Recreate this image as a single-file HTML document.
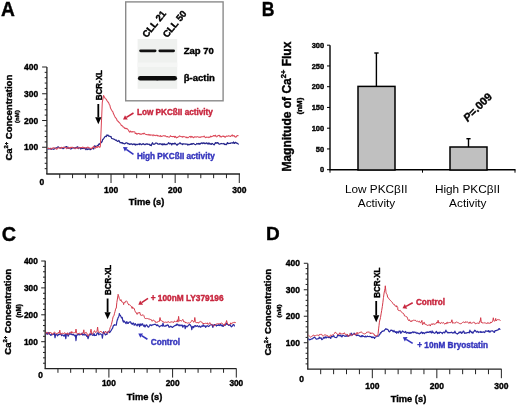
<!DOCTYPE html><html><head><meta charset="utf-8"><style>html,body{margin:0;padding:0;background:#fff;width:520px;height:407px;overflow:hidden}svg{display:block;filter:blur(0.4px)}text.k{stroke:#000;stroke-width:0.38px}text.r{stroke:#c8263e;stroke-width:0.38px}text.u{stroke:#3535bd;stroke-width:0.38px}</style></head><body><svg width="520" height="407" viewBox="0 0 520 407">
<rect width="520" height="407" fill="#fff"/>
<text class="k" x="0" y="0" font-family="Liberation Sans" font-size="19.8" font-weight="bold" text-anchor="start" fill="#000" transform="translate(0.9,15.8) scale(0.97,1)">A</text>
<line x1="46.9" y1="174" x2="46.9" y2="67" stroke="#222" stroke-width="1.3"/>
<line x1="46.25" y1="174" x2="240" y2="174" stroke="#222" stroke-width="1.3"/>
<line x1="44.70" y1="168.65" x2="46.9" y2="168.65" stroke="#222" stroke-width="1"/>
<line x1="44.70" y1="163.30" x2="46.9" y2="163.30" stroke="#222" stroke-width="1"/>
<line x1="44.70" y1="157.95" x2="46.9" y2="157.95" stroke="#222" stroke-width="1"/>
<line x1="44.70" y1="152.60" x2="46.9" y2="152.60" stroke="#222" stroke-width="1"/>
<line x1="42.10" y1="147.25" x2="46.9" y2="147.25" stroke="#222" stroke-width="1"/>
<line x1="44.70" y1="141.90" x2="46.9" y2="141.90" stroke="#222" stroke-width="1"/>
<line x1="44.70" y1="136.55" x2="46.9" y2="136.55" stroke="#222" stroke-width="1"/>
<line x1="44.70" y1="131.20" x2="46.9" y2="131.20" stroke="#222" stroke-width="1"/>
<line x1="44.70" y1="125.85" x2="46.9" y2="125.85" stroke="#222" stroke-width="1"/>
<line x1="42.10" y1="120.50" x2="46.9" y2="120.50" stroke="#222" stroke-width="1"/>
<line x1="44.70" y1="115.15" x2="46.9" y2="115.15" stroke="#222" stroke-width="1"/>
<line x1="44.70" y1="109.80" x2="46.9" y2="109.80" stroke="#222" stroke-width="1"/>
<line x1="44.70" y1="104.45" x2="46.9" y2="104.45" stroke="#222" stroke-width="1"/>
<line x1="44.70" y1="99.10" x2="46.9" y2="99.10" stroke="#222" stroke-width="1"/>
<line x1="42.10" y1="93.75" x2="46.9" y2="93.75" stroke="#222" stroke-width="1"/>
<line x1="44.70" y1="88.40" x2="46.9" y2="88.40" stroke="#222" stroke-width="1"/>
<line x1="44.70" y1="83.05" x2="46.9" y2="83.05" stroke="#222" stroke-width="1"/>
<line x1="44.70" y1="77.70" x2="46.9" y2="77.70" stroke="#222" stroke-width="1"/>
<line x1="44.70" y1="72.35" x2="46.9" y2="72.35" stroke="#222" stroke-width="1"/>
<line x1="42.10" y1="67.00" x2="46.9" y2="67.00" stroke="#222" stroke-width="1"/>
<line x1="59.73" y1="174" x2="59.73" y2="178.2" stroke="#222" stroke-width="1"/>
<line x1="72.55" y1="174" x2="72.55" y2="178.2" stroke="#222" stroke-width="1"/>
<line x1="85.38" y1="174" x2="85.38" y2="178.2" stroke="#222" stroke-width="1"/>
<line x1="98.20" y1="174" x2="98.20" y2="178.2" stroke="#222" stroke-width="1"/>
<line x1="111.03" y1="174" x2="111.03" y2="183" stroke="#222" stroke-width="1"/>
<line x1="123.86" y1="174" x2="123.86" y2="178.2" stroke="#222" stroke-width="1"/>
<line x1="136.68" y1="174" x2="136.68" y2="178.2" stroke="#222" stroke-width="1"/>
<line x1="149.51" y1="174" x2="149.51" y2="178.2" stroke="#222" stroke-width="1"/>
<line x1="162.33" y1="174" x2="162.33" y2="178.2" stroke="#222" stroke-width="1"/>
<line x1="175.16" y1="174" x2="175.16" y2="183" stroke="#222" stroke-width="1"/>
<line x1="187.99" y1="174" x2="187.99" y2="178.2" stroke="#222" stroke-width="1"/>
<line x1="200.81" y1="174" x2="200.81" y2="178.2" stroke="#222" stroke-width="1"/>
<line x1="213.64" y1="174" x2="213.64" y2="178.2" stroke="#222" stroke-width="1"/>
<line x1="226.46" y1="174" x2="226.46" y2="178.2" stroke="#222" stroke-width="1"/>
<line x1="239.29" y1="174" x2="239.29" y2="183" stroke="#222" stroke-width="1"/>
<text class="k" x="38.2" y="150.35" font-family="Liberation Sans" font-size="8.5" font-weight="bold" text-anchor="end" fill="#000" >100</text>
<text class="k" x="38.2" y="123.60" font-family="Liberation Sans" font-size="8.5" font-weight="bold" text-anchor="end" fill="#000" >200</text>
<text class="k" x="38.2" y="96.85" font-family="Liberation Sans" font-size="8.5" font-weight="bold" text-anchor="end" fill="#000" >300</text>
<text class="k" x="38.2" y="70.10" font-family="Liberation Sans" font-size="8.5" font-weight="bold" text-anchor="end" fill="#000" >400</text>
<text class="k" x="111.03" y="193.2" font-family="Liberation Sans" font-size="8.5" font-weight="bold" text-anchor="middle" fill="#000" >100</text>
<text class="k" x="175.16" y="193.2" font-family="Liberation Sans" font-size="8.5" font-weight="bold" text-anchor="middle" fill="#000" >200</text>
<text class="k" x="239.29" y="193.2" font-family="Liberation Sans" font-size="8.5" font-weight="bold" text-anchor="middle" fill="#000" >300</text>
<text class="k" x="41.8" y="184.6" font-family="Liberation Sans" font-size="8.5" font-weight="bold" text-anchor="middle" fill="#000" >0</text>
<text class="k" x="146.6" y="205.1" font-family="Liberation Sans" font-size="9.3" font-weight="bold" text-anchor="middle" fill="#000" >Time (s)</text>
<text class="k" transform="translate(11.5,117.7) rotate(-90)" font-family="Liberation Sans" font-size="9.5" font-weight="bold" text-anchor="middle">Ca<tspan font-size="5.8" dy="-3.5">2+</tspan><tspan dy="3.5"> Concentration</tspan></text>
<text class="k" transform="translate(19.3,116.6) rotate(-90)" font-family="Liberation Sans" font-size="6" font-weight="bold" text-anchor="middle">(nM)</text>
<path d="M47.50,148.55 L48.10,149.21 L48.70,148.33 L49.30,148.95 L49.90,148.57 L50.50,148.38 L51.10,149.46 L51.70,149.05 L52.30,148.73 L52.90,148.99 L53.50,149.33 L54.10,148.87 L54.70,148.97 L55.30,148.16 L55.90,148.09 L56.50,148.01 L57.10,147.48 L57.70,147.11 L58.30,146.86 L58.90,147.50 L59.50,147.85 L60.10,147.94 L60.70,148.20 L61.30,147.55 L61.90,147.91 L62.50,148.27 L63.10,148.73 L63.70,148.07 L64.30,147.99 L64.90,147.06 L65.50,147.42 L66.10,146.67 L66.70,146.71 L67.30,148.12 L67.90,147.01 L68.50,148.10 L69.10,148.38 L69.70,148.17 L70.00,148.48 L70.30,148.69 L70.90,149.08 L71.50,148.59 L72.10,148.14 L72.70,147.92 L73.30,147.61 L73.90,147.97 L74.50,147.76 L75.10,148.67 L75.70,147.52 L76.30,147.38 L76.90,147.39 L77.50,146.77 L78.10,148.67 L78.70,147.25 L79.30,147.72 L79.90,147.83 L80.50,149.08 L81.10,147.72 L81.70,148.72 L82.30,148.24 L82.90,148.32 L83.50,148.08 L84.10,148.69 L84.70,148.02 L85.00,148.27 L85.30,148.65 L85.90,149.69 L86.50,147.89 L87.10,149.17 L87.70,149.52 L88.30,148.92 L88.90,149.08 L89.50,148.75 L90.10,149.77 L90.70,149.51 L91.00,149.15 L91.30,148.86 L91.90,148.59 L92.50,148.38 L93.10,147.80 L93.70,149.04 L94.30,147.38 L94.90,145.53 L95.00,146.58 L95.50,146.68 L96.10,146.71 L96.70,146.14 L97.30,145.63 L97.90,145.38 L98.00,145.78 L98.50,144.69 L99.10,143.79 L99.70,144.28 L100.30,143.42 L100.90,141.82 L101.50,142.50 L102.10,141.66 L102.40,140.49 L102.70,139.45 L103.30,139.29 L103.90,138.29 L104.50,137.36 L105.10,136.47 L105.70,136.16 L106.30,136.59 L106.80,135.76 L106.90,134.97 L107.50,135.41 L108.10,135.12 L108.30,135.47 L108.70,136.20 L109.30,136.11 L109.90,136.31 L110.50,136.69 L111.10,136.51 L111.20,137.26 L111.70,138.41 L112.30,138.61 L112.90,138.74 L113.50,139.05 L114.10,139.17 L114.70,139.46 L115.30,140.09 L115.60,140.16 L115.90,140.40 L116.50,140.06 L117.10,141.07 L117.70,141.51 L118.30,141.19 L118.90,140.51 L119.50,141.54 L120.10,142.78 L120.70,142.50 L121.30,142.61 L121.50,142.58 L121.90,143.24 L122.50,142.74 L123.10,143.57 L123.70,143.30 L124.30,143.87 L124.90,143.69 L125.50,143.49 L126.10,142.73 L126.70,142.81 L127.30,143.11 L127.90,143.80 L128.50,143.94 L128.90,143.51 L129.10,143.90 L129.70,144.46 L130.30,144.15 L130.90,143.86 L131.50,143.77 L132.10,144.42 L132.70,144.62 L133.30,143.95 L133.90,144.35 L134.50,144.12 L135.00,143.87 L135.10,144.82 L135.70,145.05 L136.30,144.31 L136.90,144.38 L137.50,144.64 L138.10,144.14 L138.70,144.17 L139.30,144.61 L139.90,143.48 L140.50,144.07 L141.10,144.59 L141.70,144.71 L142.30,143.76 L142.90,144.18 L143.50,143.74 L144.10,144.31 L144.70,144.60 L145.30,144.53 L145.90,143.95 L146.50,143.76 L147.10,144.45 L147.70,143.82 L148.30,144.27 L148.90,144.50 L149.50,144.18 L150.10,145.48 L150.70,144.85 L151.30,145.67 L151.90,143.79 L152.50,142.71 L153.10,143.95 L153.70,144.37 L154.30,144.05 L154.90,144.03 L155.50,143.00 L156.10,143.18 L156.70,143.04 L157.30,143.42 L157.90,144.21 L158.50,144.14 L159.10,144.28 L159.70,143.75 L160.00,143.63 L160.30,143.88 L160.90,143.78 L161.50,144.58 L162.10,143.80 L162.70,144.93 L163.30,143.92 L163.90,144.53 L164.50,143.83 L165.10,144.81 L165.70,144.46 L166.30,144.43 L166.90,144.61 L167.50,143.93 L168.10,143.37 L168.70,142.55 L169.30,143.92 L169.90,143.55 L170.50,143.42 L171.10,143.66 L171.70,144.90 L172.30,143.46 L172.90,143.84 L173.50,143.66 L174.10,144.09 L174.70,143.02 L175.30,143.25 L175.90,144.05 L176.50,144.84 L177.10,145.25 L177.70,144.11 L178.30,144.04 L178.90,143.91 L179.50,143.15 L180.10,142.73 L180.70,143.73 L181.30,143.94 L181.90,143.84 L182.50,144.53 L183.10,143.65 L183.70,144.06 L184.30,143.97 L184.90,143.89 L185.50,144.15 L186.10,144.10 L186.70,144.13 L187.30,144.14 L187.90,145.07 L188.50,144.29 L189.10,144.63 L189.70,144.57 L190.30,144.02 L190.90,144.37 L191.50,143.63 L192.10,144.37 L192.70,143.66 L193.30,143.47 L193.90,143.83 L194.50,144.28 L195.10,144.55 L195.70,144.68 L196.30,144.13 L196.90,143.45 L197.50,143.93 L198.10,144.03 L198.70,143.40 L199.30,144.13 L199.90,144.07 L200.00,143.41 L200.50,143.84 L201.10,143.08 L201.70,142.94 L202.30,143.57 L202.90,142.81 L203.50,143.30 L204.10,142.78 L204.70,143.66 L205.30,143.29 L205.90,143.60 L206.50,142.83 L207.10,143.08 L207.70,143.90 L208.30,144.05 L208.90,142.85 L209.50,143.77 L210.10,144.21 L210.70,143.72 L211.30,144.46 L211.90,143.47 L212.50,143.50 L213.10,144.17 L213.70,144.62 L214.30,144.81 L214.90,143.60 L215.50,142.62 L216.10,143.32 L216.70,142.66 L217.30,143.04 L217.90,142.60 L218.50,143.66 L219.10,144.04 L219.70,144.10 L220.30,143.82 L220.90,143.70 L221.50,143.44 L222.10,143.68 L222.70,143.73 L223.30,143.86 L223.90,143.44 L224.50,144.50 L225.10,144.14 L225.70,144.57 L226.30,144.74 L226.90,143.61 L227.50,142.59 L228.10,143.70 L228.70,143.35 L229.30,143.42 L229.90,143.27 L230.50,143.41 L231.10,142.74 L231.70,143.00 L232.30,142.93 L232.90,143.14 L233.50,141.96 L234.10,143.11 L234.70,143.41 L235.30,142.42 L235.90,142.47 L236.50,142.91 L237.10,143.46 L237.70,143.38 L238.30,144.10 L238.50,143.71" fill="none" stroke="#26268c" stroke-width="1.2" stroke-linejoin="round"/>
<path d="M47.50,148.32 L48.10,148.51 L48.70,148.18 L49.30,148.38 L49.90,148.73 L50.50,148.67 L51.10,149.15 L51.70,148.28 L52.30,148.27 L52.90,147.92 L53.50,147.70 L54.10,147.85 L54.70,148.11 L55.30,148.32 L55.90,148.46 L56.50,149.30 L57.10,149.10 L57.70,147.88 L58.30,148.08 L58.90,147.80 L59.50,147.71 L60.10,148.47 L60.70,148.16 L61.30,147.23 L61.90,147.77 L62.50,147.76 L63.10,147.36 L63.70,147.27 L64.30,147.35 L64.90,147.65 L65.50,147.62 L66.10,147.82 L66.70,148.71 L67.30,147.96 L67.90,147.58 L68.50,147.64 L69.10,148.26 L69.70,147.76 L70.00,148.47 L70.30,147.59 L70.90,147.27 L71.50,147.54 L72.10,147.30 L72.70,147.29 L73.30,147.76 L73.90,148.11 L74.50,148.01 L75.10,147.77 L75.70,148.38 L76.30,148.25 L76.90,147.89 L77.50,148.36 L78.10,147.64 L78.70,147.75 L79.30,148.02 L79.90,147.85 L80.50,147.51 L81.10,147.74 L81.70,147.46 L82.30,147.28 L82.90,147.00 L83.50,147.89 L84.10,147.50 L84.70,148.07 L85.00,148.00 L85.30,147.68 L85.90,147.92 L86.50,147.86 L87.10,147.76 L87.70,147.03 L88.30,147.31 L88.90,147.81 L89.50,147.87 L90.10,148.13 L90.70,148.47 L91.30,148.15 L91.90,148.69 L92.50,147.38 L93.10,147.30 L93.70,146.22 L94.30,147.18 L94.90,147.33 L95.50,148.11 L96.10,147.57 L96.70,146.55 L97.30,147.52 L97.90,146.82 L98.50,146.50 L99.10,146.82 L99.70,147.34 L100.00,147.09 L100.30,146.30 L100.40,145.14 L100.90,134.77 L101.50,120.67 L102.10,106.76 L102.30,102.33 L102.70,100.21 L103.30,97.13 L103.50,95.59 L103.90,96.17 L104.50,97.19 L105.10,98.34 L105.70,98.74 L106.30,99.40 L106.50,99.72 L106.90,100.52 L107.50,101.40 L108.10,102.13 L108.70,102.86 L109.30,104.45 L109.70,105.03 L109.90,105.33 L110.50,108.18 L111.10,109.13 L111.70,110.27 L112.30,111.22 L112.90,111.85 L113.50,113.82 L114.10,114.94 L114.20,115.11 L114.70,116.28 L115.30,117.39 L115.90,118.05 L116.50,118.74 L117.10,120.48 L117.70,121.12 L118.30,121.18 L118.60,122.00 L118.90,122.22 L119.50,122.72 L120.10,123.57 L120.70,124.09 L121.30,125.45 L121.90,125.62 L122.50,126.02 L123.10,126.93 L123.70,126.91 L124.30,127.91 L124.50,127.83 L124.90,128.50 L125.50,128.17 L126.10,128.76 L126.70,128.34 L127.30,128.84 L127.90,129.48 L128.50,130.21 L129.10,131.42 L129.70,132.16 L130.30,131.28 L130.40,130.98 L130.90,131.87 L131.50,132.06 L132.10,131.44 L132.70,132.06 L133.30,131.74 L133.90,131.80 L134.50,131.75 L135.00,132.24 L135.10,133.55 L135.70,133.46 L136.30,133.25 L136.90,134.37 L137.50,133.65 L138.10,133.48 L138.70,133.40 L139.00,133.67 L139.30,133.49 L139.90,134.25 L140.50,133.90 L141.10,134.14 L141.70,134.16 L142.30,133.72 L142.90,133.49 L143.50,133.84 L144.10,133.05 L144.70,133.73 L145.30,134.14 L145.90,134.42 L146.50,134.51 L147.10,134.78 L147.70,134.65 L148.30,135.07 L148.90,134.30 L149.50,135.10 L150.10,134.74 L150.70,135.22 L151.30,135.07 L151.90,135.06 L152.50,134.93 L153.00,135.85 L153.10,135.20 L153.70,134.84 L154.30,135.32 L154.90,135.60 L155.50,135.66 L156.10,135.25 L156.70,135.21 L157.30,135.90 L157.90,135.39 L158.50,135.89 L159.10,136.21 L159.70,136.12 L160.30,135.49 L160.90,136.59 L161.50,136.36 L162.10,136.29 L162.70,136.02 L163.30,135.64 L163.90,135.78 L164.50,136.07 L165.10,135.77 L165.70,136.06 L166.30,136.69 L166.90,136.70 L167.50,136.49 L168.10,136.91 L168.70,137.08 L169.30,137.17 L169.90,136.47 L170.50,135.69 L171.10,136.48 L171.70,136.56 L172.30,136.43 L172.90,136.76 L173.50,136.53 L174.10,136.35 L174.70,137.37 L175.30,136.37 L175.90,136.98 L176.00,137.35 L176.50,137.88 L177.10,137.47 L177.70,137.38 L178.30,136.71 L178.90,136.80 L179.50,135.89 L180.10,136.13 L180.70,136.50 L181.30,136.66 L181.90,136.57 L182.50,137.27 L183.10,136.39 L183.70,136.73 L184.30,136.66 L184.90,136.83 L185.50,136.93 L186.10,137.83 L186.70,136.94 L187.30,137.57 L187.90,137.92 L188.50,137.42 L189.10,136.95 L189.70,136.45 L190.30,136.37 L190.90,137.64 L191.50,136.39 L192.10,136.94 L192.70,136.71 L193.30,137.76 L193.90,137.58 L194.50,136.75 L195.10,136.72 L195.70,137.02 L196.30,137.15 L196.90,136.74 L197.50,136.84 L198.10,136.81 L198.70,137.23 L199.00,137.34 L199.30,137.36 L199.90,136.99 L200.50,137.41 L201.10,137.00 L201.70,136.67 L202.30,136.67 L202.90,136.70 L203.50,136.72 L204.10,135.99 L204.70,137.08 L205.30,137.29 L205.90,137.69 L206.50,137.12 L207.10,137.33 L207.70,137.18 L208.30,137.01 L208.90,137.71 L209.50,136.98 L210.10,137.12 L210.70,136.15 L211.30,136.68 L211.90,136.61 L212.50,136.18 L213.10,136.15 L213.70,135.43 L214.30,135.54 L214.90,136.13 L215.50,135.16 L216.10,136.33 L216.70,136.85 L217.30,136.33 L217.90,135.73 L218.50,135.46 L219.10,135.36 L219.70,135.54 L220.00,136.94 L220.30,136.15 L220.90,136.58 L221.50,137.00 L222.10,136.22 L222.70,136.12 L223.30,136.48 L223.90,136.05 L224.50,136.67 L225.10,137.38 L225.70,136.73 L226.30,136.05 L226.90,136.33 L227.50,136.34 L228.10,135.85 L228.70,135.86 L229.30,135.95 L229.90,136.18 L230.50,136.56 L231.10,136.01 L231.70,135.36 L232.30,134.87 L232.90,136.18 L233.50,135.80 L234.10,135.60 L234.70,136.77 L235.30,136.74 L235.90,137.22 L236.50,136.36 L237.10,135.69 L237.70,135.41 L238.30,135.79 L238.50,135.88" fill="none" stroke="#dc4a5a" stroke-width="1.05" stroke-linejoin="round"/>
<text class="k" transform="translate(101.5,85.2) rotate(-90) scale(0.91,1)" font-family="Liberation Sans" font-size="8.8" font-weight="bold" text-anchor="middle">BCR-XL</text>
<line x1="98.30" y1="104.00" x2="98.30" y2="117.30" stroke="#000" stroke-width="1.8"/>
<polygon points="98.30,124.30 95.20,117.30 101.40,117.30" fill="#000"/>
<text class="r" x="136.9" y="115.2" font-family="Liberation Sans" font-size="8.2" font-weight="bold" text-anchor="start" fill="#c8263e" >Low PKCßII activity</text>
<text class="u" x="136.9" y="158.6" font-family="Liberation Sans" font-size="8.2" font-weight="bold" text-anchor="start" fill="#3535bd" >High PKCßII activity</text>
<line x1="133.50" y1="113.00" x2="126.40" y2="117.39" stroke="#c8263e" stroke-width="1.6"/>
<polygon points="123.00,119.50 125.03,115.18 127.77,119.61" fill="#c8263e"/>
<line x1="133.50" y1="154.40" x2="126.27" y2="149.30" stroke="#3535bd" stroke-width="1.6"/>
<polygon points="123.00,147.00 127.77,147.18 124.77,151.43" fill="#3535bd"/>
<rect x="125.7" y="1.9" width="97.4" height="98.9" fill="#fff" stroke="#8a8a8a" stroke-width="1.4"/>
<rect x="137.6" y="39" width="39.6" height="49.8" fill="#eff1ef"/>
<rect x="137.6" y="62.5" width="39.6" height="4.5" fill="#f5f6f5"/>
<line x1="140.6" y1="50.8" x2="155.1" y2="50.8" stroke="#111" stroke-width="2.8" stroke-linecap="round"/>
<line x1="159.8" y1="50.8" x2="173.6" y2="50.8" stroke="#111" stroke-width="2.8" stroke-linecap="round"/>
<line x1="140.2" y1="78.3" x2="157" y2="78.3" stroke="#0c0c0c" stroke-width="4.5" stroke-linecap="round"/>
<line x1="157.6" y1="78.3" x2="174.8" y2="78.3" stroke="#0c0c0c" stroke-width="4.5" stroke-linecap="round"/>
<text class="k" x="183.7" y="53.8" font-family="Liberation Sans" font-size="9.5" font-weight="bold" text-anchor="start" fill="#000" >Zap 70</text>
<text class="k" x="183.7" y="81.2" font-family="Liberation Sans" font-size="9.5" font-weight="bold" text-anchor="start" fill="#000" >β-actin</text>
<text class="k" transform="translate(146.8,38.3) rotate(-51)" font-family="Liberation Sans" font-size="9.5" font-weight="bold">CLL 21</text>
<text class="k" transform="translate(167.3,38.3) rotate(-51)" font-family="Liberation Sans" font-size="9.5" font-weight="bold">CLL 50</text>
<text class="k" x="0" y="0" font-family="Liberation Sans" font-size="20" font-weight="bold" text-anchor="start" fill="#000" transform="translate(261.8,15.9) scale(0.88,1)">B</text>
<line x1="330" y1="169.7" x2="330" y2="45.3" stroke="#000" stroke-width="1.4"/>
<line x1="329.4" y1="169.7" x2="515.5" y2="169.7" stroke="#000" stroke-width="1.4"/>
<line x1="327" y1="169.70" x2="330" y2="169.70" stroke="#000" stroke-width="1"/>
<text class="k" x="324.2" y="172.40" font-family="Liberation Sans" font-size="7.5" font-weight="bold" text-anchor="end" fill="#000" >0</text>
<line x1="327" y1="148.95" x2="330" y2="148.95" stroke="#000" stroke-width="1"/>
<text class="k" x="324.2" y="151.65" font-family="Liberation Sans" font-size="7.5" font-weight="bold" text-anchor="end" fill="#000" >50</text>
<line x1="327" y1="128.20" x2="330" y2="128.20" stroke="#000" stroke-width="1"/>
<text class="k" x="324.2" y="130.90" font-family="Liberation Sans" font-size="7.5" font-weight="bold" text-anchor="end" fill="#000" >100</text>
<line x1="327" y1="107.45" x2="330" y2="107.45" stroke="#000" stroke-width="1"/>
<text class="k" x="324.2" y="110.15" font-family="Liberation Sans" font-size="7.5" font-weight="bold" text-anchor="end" fill="#000" >150</text>
<line x1="327" y1="86.70" x2="330" y2="86.70" stroke="#000" stroke-width="1"/>
<text class="k" x="324.2" y="89.40" font-family="Liberation Sans" font-size="7.5" font-weight="bold" text-anchor="end" fill="#000" >200</text>
<line x1="327" y1="65.95" x2="330" y2="65.95" stroke="#000" stroke-width="1"/>
<text class="k" x="324.2" y="68.65" font-family="Liberation Sans" font-size="7.5" font-weight="bold" text-anchor="end" fill="#000" >250</text>
<line x1="327" y1="45.20" x2="330" y2="45.20" stroke="#000" stroke-width="1"/>
<text class="k" x="324.2" y="47.90" font-family="Liberation Sans" font-size="7.5" font-weight="bold" text-anchor="end" fill="#000" >300</text>
<line x1="330" y1="169.7" x2="330" y2="172.7" stroke="#000" stroke-width="1"/>
<line x1="422.5" y1="169.7" x2="422.5" y2="172.7" stroke="#000" stroke-width="1"/>
<line x1="515" y1="169.7" x2="515" y2="172.7" stroke="#000" stroke-width="1"/>
<rect x="358" y="86.4" width="37" height="83.6" fill="#c0c0c0" stroke="#000" stroke-width="1.5"/>
<rect x="450" y="147" width="37" height="23" fill="#c0c0c0" stroke="#000" stroke-width="1.5"/>
<line x1="376.4" y1="86.4" x2="376.4" y2="53" stroke="#000" stroke-width="1.4"/>
<line x1="374.3" y1="53" x2="378.6" y2="53" stroke="#000" stroke-width="1.4"/>
<line x1="468.5" y1="147" x2="468.5" y2="138.7" stroke="#000" stroke-width="1.4"/>
<line x1="466.4" y1="138.7" x2="470.6" y2="138.7" stroke="#000" stroke-width="1.4"/>
<text class="k" transform="translate(290.9,106.6) rotate(-90)" font-family="Liberation Sans" font-size="12" font-weight="bold" text-anchor="middle">Magnitude of Ca<tspan font-size="7.5" dy="-4.5">2+</tspan><tspan dy="4.5"> Flux</tspan></text>
<text class="k" transform="translate(302.2,106) rotate(-90)" font-family="Liberation Sans" font-size="8" font-weight="bold" text-anchor="middle">(nM)</text>
<text class="k" transform="translate(480.3,109.8) rotate(-45)" font-family="Liberation Sans" font-size="11" font-weight="bold" text-anchor="middle"><tspan font-style="italic">P</tspan>=.009</text>
<text class="n" x="376.2" y="192.8" font-family="Liberation Sans" font-size="11.8" font-weight="normal" text-anchor="middle" fill="#000" >Low PKCβII</text>
<text class="n" x="376.5" y="206.9" font-family="Liberation Sans" font-size="11.8" font-weight="normal" text-anchor="middle" fill="#000" >Activity</text>
<text class="n" x="467.5" y="192.8" font-family="Liberation Sans" font-size="11.8" font-weight="normal" text-anchor="middle" fill="#000" >High PKCβII</text>
<text class="n" x="467.8" y="206.9" font-family="Liberation Sans" font-size="11.8" font-weight="normal" text-anchor="middle" fill="#000" >Activity</text>
<text class="k" x="0" y="0" font-family="Liberation Sans" font-size="19.8" font-weight="bold" text-anchor="start" fill="#000" transform="translate(1.8,240.9) scale(1,1)">C</text>
<line x1="45.2" y1="368.6" x2="45.2" y2="260.8" stroke="#222" stroke-width="1.3"/>
<line x1="44.550000000000004" y1="368.6" x2="236.5" y2="368.6" stroke="#222" stroke-width="1.3"/>
<line x1="43.00" y1="363.22" x2="45.2" y2="363.22" stroke="#222" stroke-width="1"/>
<line x1="43.00" y1="357.84" x2="45.2" y2="357.84" stroke="#222" stroke-width="1"/>
<line x1="43.00" y1="352.46" x2="45.2" y2="352.46" stroke="#222" stroke-width="1"/>
<line x1="43.00" y1="347.08" x2="45.2" y2="347.08" stroke="#222" stroke-width="1"/>
<line x1="41.20" y1="341.70" x2="45.2" y2="341.70" stroke="#222" stroke-width="1"/>
<line x1="43.00" y1="336.32" x2="45.2" y2="336.32" stroke="#222" stroke-width="1"/>
<line x1="43.00" y1="330.94" x2="45.2" y2="330.94" stroke="#222" stroke-width="1"/>
<line x1="43.00" y1="325.56" x2="45.2" y2="325.56" stroke="#222" stroke-width="1"/>
<line x1="43.00" y1="320.18" x2="45.2" y2="320.18" stroke="#222" stroke-width="1"/>
<line x1="41.20" y1="314.80" x2="45.2" y2="314.80" stroke="#222" stroke-width="1"/>
<line x1="43.00" y1="309.42" x2="45.2" y2="309.42" stroke="#222" stroke-width="1"/>
<line x1="43.00" y1="304.04" x2="45.2" y2="304.04" stroke="#222" stroke-width="1"/>
<line x1="43.00" y1="298.66" x2="45.2" y2="298.66" stroke="#222" stroke-width="1"/>
<line x1="43.00" y1="293.28" x2="45.2" y2="293.28" stroke="#222" stroke-width="1"/>
<line x1="41.20" y1="287.90" x2="45.2" y2="287.90" stroke="#222" stroke-width="1"/>
<line x1="43.00" y1="282.52" x2="45.2" y2="282.52" stroke="#222" stroke-width="1"/>
<line x1="43.00" y1="277.14" x2="45.2" y2="277.14" stroke="#222" stroke-width="1"/>
<line x1="43.00" y1="271.76" x2="45.2" y2="271.76" stroke="#222" stroke-width="1"/>
<line x1="43.00" y1="266.38" x2="45.2" y2="266.38" stroke="#222" stroke-width="1"/>
<line x1="41.20" y1="261.00" x2="45.2" y2="261.00" stroke="#222" stroke-width="1"/>
<line x1="57.94" y1="368.6" x2="57.94" y2="372.8" stroke="#222" stroke-width="1"/>
<line x1="70.68" y1="368.6" x2="70.68" y2="372.8" stroke="#222" stroke-width="1"/>
<line x1="83.42" y1="368.6" x2="83.42" y2="372.8" stroke="#222" stroke-width="1"/>
<line x1="96.16" y1="368.6" x2="96.16" y2="372.8" stroke="#222" stroke-width="1"/>
<line x1="108.90" y1="368.6" x2="108.90" y2="377.6" stroke="#222" stroke-width="1"/>
<line x1="121.64" y1="368.6" x2="121.64" y2="372.8" stroke="#222" stroke-width="1"/>
<line x1="134.38" y1="368.6" x2="134.38" y2="372.8" stroke="#222" stroke-width="1"/>
<line x1="147.12" y1="368.6" x2="147.12" y2="372.8" stroke="#222" stroke-width="1"/>
<line x1="159.86" y1="368.6" x2="159.86" y2="372.8" stroke="#222" stroke-width="1"/>
<line x1="172.60" y1="368.6" x2="172.60" y2="377.6" stroke="#222" stroke-width="1"/>
<line x1="185.34" y1="368.6" x2="185.34" y2="372.8" stroke="#222" stroke-width="1"/>
<line x1="198.08" y1="368.6" x2="198.08" y2="372.8" stroke="#222" stroke-width="1"/>
<line x1="210.82" y1="368.6" x2="210.82" y2="372.8" stroke="#222" stroke-width="1"/>
<line x1="223.56" y1="368.6" x2="223.56" y2="372.8" stroke="#222" stroke-width="1"/>
<line x1="236.30" y1="368.6" x2="236.30" y2="377.6" stroke="#222" stroke-width="1"/>
<text class="k" x="37.8" y="344.80" font-family="Liberation Sans" font-size="8.3" font-weight="bold" text-anchor="end" fill="#000" >100</text>
<text class="k" x="37.8" y="317.90" font-family="Liberation Sans" font-size="8.3" font-weight="bold" text-anchor="end" fill="#000" >200</text>
<text class="k" x="37.8" y="291.00" font-family="Liberation Sans" font-size="8.3" font-weight="bold" text-anchor="end" fill="#000" >300</text>
<text class="k" x="37.8" y="264.10" font-family="Liberation Sans" font-size="8.3" font-weight="bold" text-anchor="end" fill="#000" >400</text>
<text class="k" x="108.90" y="386.4" font-family="Liberation Sans" font-size="8.3" font-weight="bold" text-anchor="middle" fill="#000" >100</text>
<text class="k" x="172.60" y="386.4" font-family="Liberation Sans" font-size="8.3" font-weight="bold" text-anchor="middle" fill="#000" >200</text>
<text class="k" x="236.30" y="386.4" font-family="Liberation Sans" font-size="8.3" font-weight="bold" text-anchor="middle" fill="#000" >300</text>
<text class="k" x="40.6" y="378.2" font-family="Liberation Sans" font-size="8.3" font-weight="bold" text-anchor="middle" fill="#000" >0</text>
<text class="k" x="144.6" y="399.5" font-family="Liberation Sans" font-size="9.3" font-weight="bold" text-anchor="middle" fill="#000" >Time (s)</text>
<text class="k" transform="translate(10.6,311.8) rotate(-90)" font-family="Liberation Sans" font-size="9.5" font-weight="bold" text-anchor="middle">Ca<tspan font-size="5.8" dy="-3.5">2+</tspan><tspan dy="3.5"> Concentration</tspan></text>
<text class="k" transform="translate(21.1,310.9) rotate(-90)" font-family="Liberation Sans" font-size="6.3" font-weight="bold" text-anchor="middle">(nM)</text>
<path d="M46.00,333.67 L46.60,333.28 L47.20,334.36 L47.80,332.82 L48.40,333.56 L49.00,332.45 L49.60,334.25 L50.20,334.52 L50.80,335.46 L51.40,334.63 L52.00,334.84 L52.60,334.47 L53.20,333.97 L53.80,334.34 L54.40,333.54 L55.00,337.77 L55.60,334.62 L56.20,334.60 L56.80,334.26 L57.40,335.91 L58.00,335.25 L58.60,334.46 L59.20,334.59 L59.80,334.18 L60.40,334.07 L61.00,334.04 L61.60,335.69 L62.20,335.11 L62.80,334.93 L63.40,335.19 L64.00,336.25 L64.60,335.22 L65.20,334.42 L65.80,338.69 L66.40,334.33 L67.00,334.16 L67.60,334.79 L68.20,336.25 L68.80,334.71 L69.40,332.90 L70.00,334.17 L70.60,333.97 L71.20,333.96 L71.80,334.55 L72.40,334.68 L73.00,334.80 L73.60,334.35 L74.20,335.33 L74.80,335.97 L75.40,335.26 L76.00,340.56 L76.60,335.04 L77.20,335.11 L77.80,334.07 L78.40,333.97 L79.00,334.97 L79.60,334.67 L80.00,334.35 L80.20,334.57 L80.80,334.51 L81.40,334.49 L82.00,333.13 L82.60,335.02 L83.20,334.88 L83.80,334.05 L84.40,334.93 L85.00,334.90 L85.60,334.68 L86.20,335.29 L86.80,336.43 L87.40,335.81 L88.00,338.72 L88.60,336.82 L89.20,334.89 L89.80,334.27 L90.40,334.87 L91.00,333.42 L91.60,333.71 L92.20,334.94 L92.80,335.37 L93.40,335.27 L94.00,333.47 L94.60,335.55 L95.20,335.32 L95.80,335.36 L96.40,335.18 L97.00,333.54 L97.60,332.92 L98.20,332.75 L98.80,334.86 L99.40,333.99 L100.00,333.96 L100.60,333.93 L101.20,334.50 L101.80,334.72 L102.40,338.17 L103.00,333.57 L103.60,331.70 L104.20,333.08 L104.80,333.84 L105.40,334.89 L106.00,334.47 L106.60,333.91 L107.00,334.34 L107.20,332.96 L107.80,332.08 L108.40,331.34 L109.00,331.55 L109.60,332.58 L110.10,331.95 L110.20,332.08 L110.80,330.99 L111.40,330.19 L112.00,329.00 L112.60,328.24 L113.20,326.07 L113.80,325.56 L114.40,324.64 L115.00,325.22 L115.60,324.95 L116.20,324.70 L116.30,325.17 L116.80,321.84 L117.40,319.49 L117.50,319.88 L118.00,317.93 L118.60,317.03 L119.20,315.10 L119.30,313.52 L119.80,314.83 L120.40,315.38 L121.00,316.78 L121.20,316.93 L121.60,318.00 L122.20,317.44 L122.80,320.57 L123.40,322.10 L123.60,321.51 L124.00,320.97 L124.60,321.65 L125.20,322.68 L125.80,323.25 L126.10,323.52 L126.40,321.91 L127.00,321.74 L127.60,323.41 L128.20,323.51 L128.80,322.35 L129.40,322.26 L130.00,321.84 L130.60,321.95 L131.20,323.58 L131.80,323.45 L132.20,324.34 L132.40,324.15 L133.00,322.98 L133.60,323.08 L134.20,325.28 L134.80,324.29 L135.40,323.66 L136.00,325.05 L136.60,325.00 L137.10,324.96 L137.20,325.93 L137.80,324.16 L138.40,324.85 L139.00,324.17 L139.60,326.61 L140.20,323.77 L140.80,325.27 L141.40,325.13 L142.00,323.87 L142.60,323.78 L143.20,325.64 L143.80,326.23 L144.40,325.04 L145.00,326.98 L145.60,325.98 L146.20,324.91 L146.80,325.16 L147.40,326.07 L148.00,327.03 L148.60,327.12 L149.20,326.15 L149.80,325.59 L150.00,324.66 L150.40,325.18 L151.00,325.07 L151.60,325.61 L152.20,324.81 L152.80,324.94 L153.40,324.75 L154.00,324.42 L154.60,324.27 L155.20,324.32 L155.80,324.23 L156.40,325.43 L157.00,325.70 L157.60,324.82 L158.20,325.70 L158.80,325.97 L159.40,326.95 L160.00,326.26 L160.60,325.90 L161.20,325.38 L161.80,325.70 L162.40,326.13 L163.00,323.12 L163.60,325.81 L164.20,326.24 L164.80,326.11 L165.40,326.17 L166.00,325.35 L166.60,325.76 L167.20,325.10 L167.80,324.88 L168.40,325.49 L169.00,327.19 L169.60,327.25 L170.20,326.57 L170.80,326.10 L171.40,326.70 L172.00,327.29 L172.60,327.46 L173.20,326.55 L173.80,326.36 L174.40,325.89 L175.00,325.69 L175.60,325.19 L176.20,325.37 L176.80,324.10 L177.40,324.15 L178.00,325.33 L178.60,324.96 L179.20,325.83 L179.80,324.95 L180.40,325.17 L181.00,325.83 L181.60,325.14 L182.20,325.02 L182.80,327.25 L183.40,326.10 L184.00,325.52 L184.60,325.32 L185.20,328.65 L185.80,325.78 L186.40,326.57 L187.00,326.83 L187.60,326.10 L188.20,325.77 L188.80,324.85 L189.40,324.33 L190.00,324.62 L190.60,325.82 L191.20,325.98 L191.80,329.55 L192.40,326.93 L193.00,326.34 L193.60,327.66 L194.20,326.45 L194.80,325.77 L195.40,325.57 L196.00,326.59 L196.60,326.19 L197.20,325.56 L197.80,326.09 L198.40,326.85 L199.00,326.35 L199.60,325.99 L200.00,326.77 L200.20,327.08 L200.80,327.20 L201.40,326.02 L202.00,326.18 L202.60,326.30 L203.20,324.81 L203.80,326.20 L204.40,326.10 L205.00,325.73 L205.60,327.39 L206.20,326.70 L206.80,325.73 L207.40,325.71 L208.00,326.13 L208.60,326.52 L209.20,326.08 L209.80,325.27 L210.40,324.98 L211.00,324.74 L211.60,324.44 L212.20,325.02 L212.80,327.47 L213.40,325.32 L214.00,324.86 L214.60,324.59 L215.20,324.94 L215.80,324.99 L216.40,326.07 L217.00,325.14 L217.60,325.46 L218.20,325.43 L218.80,324.50 L219.40,325.49 L220.00,325.57 L220.60,323.98 L221.20,325.11 L221.80,325.90 L222.40,325.05 L223.00,326.40 L223.60,325.97 L224.20,324.80 L224.80,325.44 L225.40,325.09 L226.00,324.21 L226.60,323.18 L227.20,324.37 L227.80,324.25 L228.40,325.17 L229.00,325.44 L229.60,324.92 L230.20,324.64 L230.80,326.13 L231.40,326.83 L232.00,326.49 L232.60,325.51 L233.20,324.57 L233.80,324.52 L234.40,325.95 L235.00,325.79" fill="none" stroke="#2c2ca4" stroke-width="1.2" stroke-linejoin="round"/>
<path d="M46.00,333.65 L46.60,332.22 L47.20,332.21 L47.80,332.81 L48.40,334.08 L49.00,333.69 L49.60,332.33 L50.20,333.03 L50.80,332.32 L51.40,333.66 L52.00,333.29 L52.60,334.53 L53.20,333.81 L53.80,332.83 L54.40,332.02 L55.00,332.39 L55.60,333.14 L56.20,334.04 L56.80,333.84 L57.40,333.03 L58.00,333.50 L58.60,332.37 L59.20,333.17 L59.80,330.19 L60.40,334.02 L61.00,334.33 L61.60,334.05 L62.20,332.93 L62.80,333.48 L63.40,333.62 L64.00,333.05 L64.60,332.71 L65.20,333.87 L65.80,333.27 L66.40,333.57 L67.00,334.37 L67.60,332.76 L68.20,334.25 L68.80,334.45 L69.40,333.39 L70.00,332.64 L70.60,332.08 L71.20,333.31 L71.80,331.46 L72.40,332.99 L73.00,333.22 L73.60,332.74 L74.20,332.62 L74.80,332.66 L75.40,332.78 L76.00,329.12 L76.60,332.83 L77.20,333.78 L77.80,334.19 L78.40,333.52 L79.00,333.79 L79.60,333.11 L80.00,333.20 L80.20,333.54 L80.80,334.71 L81.40,333.89 L82.00,333.40 L82.60,333.27 L83.20,333.05 L83.80,329.80 L84.40,333.98 L85.00,333.07 L85.60,332.62 L86.20,332.30 L86.80,333.12 L87.40,335.11 L88.00,336.14 L88.60,335.22 L89.20,334.29 L89.80,333.56 L90.40,332.50 L91.00,329.19 L91.60,332.93 L92.20,334.33 L92.80,333.36 L93.40,332.35 L94.00,331.25 L94.60,330.73 L95.20,332.14 L95.80,332.65 L96.40,331.84 L97.00,331.16 L97.60,327.09 L98.20,332.09 L98.80,332.49 L99.40,332.51 L100.00,331.98 L100.60,331.03 L101.20,331.86 L101.80,332.24 L102.40,332.48 L103.00,333.13 L103.60,333.43 L104.20,332.57 L104.80,332.89 L105.40,331.10 L106.00,332.20 L106.60,332.24 L107.20,332.99 L107.80,333.34 L108.00,332.15 L108.40,331.52 L109.00,331.47 L109.50,329.97 L109.60,329.73 L110.20,327.46 L110.80,326.26 L111.40,324.54 L112.00,321.97 L112.60,319.26 L113.20,316.39 L113.80,316.15 L114.00,315.44 L114.40,313.77 L115.00,311.59 L115.60,309.13 L116.20,307.93 L116.30,308.03 L116.80,302.65 L117.40,299.01 L118.00,295.14 L118.10,294.33 L118.60,295.72 L119.20,298.32 L119.80,299.34 L120.00,300.25 L120.40,300.76 L121.00,299.63 L121.60,301.71 L122.20,301.94 L122.80,302.02 L123.40,303.16 L123.60,304.62 L124.00,303.04 L124.60,302.26 L125.20,302.56 L125.80,301.15 L126.40,300.86 L127.00,301.50 L127.30,302.31 L127.60,302.93 L128.20,303.96 L128.80,304.98 L129.40,304.75 L130.00,305.03 L130.60,305.54 L131.20,306.12 L131.80,307.77 L132.20,308.53 L132.40,306.80 L133.00,308.25 L133.60,308.18 L134.20,308.40 L134.80,310.52 L135.40,311.91 L136.00,312.80 L136.60,313.18 L137.10,314.39 L137.20,312.68 L137.80,313.44 L138.40,312.86 L139.00,312.74 L139.60,312.06 L140.20,314.09 L140.80,315.40 L141.40,315.53 L142.00,314.67 L142.60,315.19 L143.20,314.83 L143.80,315.47 L144.40,317.33 L145.00,318.58 L145.60,318.54 L146.20,318.72 L146.80,318.30 L147.40,318.56 L148.00,318.44 L148.60,318.98 L149.20,318.58 L149.80,319.67 L150.40,319.47 L151.00,319.80 L151.60,319.86 L152.00,321.12 L152.20,321.30 L152.80,320.36 L153.40,319.90 L154.00,320.87 L154.60,321.13 L155.20,321.14 L155.40,321.42 L155.80,322.56 L156.40,321.88 L157.00,322.64 L157.60,321.65 L158.20,321.33 L158.80,321.57 L159.40,321.42 L160.00,317.54 L160.60,320.45 L161.20,320.68 L161.80,320.75 L162.40,321.07 L163.00,321.99 L163.60,322.07 L164.20,322.57 L164.80,322.15 L165.40,322.11 L166.00,322.22 L166.60,322.35 L167.20,322.63 L167.80,321.65 L168.40,321.87 L169.00,321.82 L169.60,322.52 L170.20,322.61 L170.80,321.65 L171.40,321.87 L172.00,322.20 L172.60,321.89 L173.20,322.60 L173.80,322.25 L174.40,320.99 L175.00,321.48 L175.60,322.08 L176.20,321.26 L176.80,321.92 L177.40,319.80 L178.00,322.15 L178.60,316.39 L179.20,320.92 L179.80,321.06 L180.40,320.36 L181.00,321.23 L181.60,320.81 L182.20,320.30 L182.80,319.37 L183.40,321.03 L184.00,322.21 L184.60,321.78 L185.20,321.92 L185.80,322.98 L186.40,322.66 L187.00,323.05 L187.60,323.14 L188.20,323.01 L188.80,322.81 L189.40,323.17 L190.00,322.68 L190.60,322.38 L191.20,321.64 L191.80,320.31 L192.40,320.47 L193.00,320.97 L193.60,322.21 L194.20,321.84 L194.80,317.51 L195.40,321.74 L196.00,322.75 L196.60,322.62 L197.20,322.54 L197.80,322.50 L198.00,322.23 L198.40,323.25 L199.00,322.29 L199.60,321.95 L200.20,321.36 L200.80,321.83 L201.40,322.02 L202.00,322.23 L202.60,323.02 L203.20,324.11 L203.80,323.03 L204.40,323.63 L205.00,323.43 L205.60,323.25 L206.20,323.31 L206.80,323.92 L207.40,322.80 L208.00,324.45 L208.60,324.14 L209.20,323.52 L209.80,322.58 L210.40,324.00 L211.00,324.44 L211.60,324.79 L212.20,324.43 L212.80,325.37 L213.40,325.72 L214.00,326.29 L214.60,325.30 L215.20,325.22 L215.80,324.23 L216.40,324.08 L217.00,323.68 L217.60,323.74 L218.20,323.77 L218.80,323.75 L219.40,323.71 L220.00,323.80 L220.60,323.43 L221.20,323.04 L221.80,323.00 L222.40,323.77 L223.00,324.19 L223.60,324.65 L224.20,325.83 L224.80,323.96 L225.00,324.35 L225.40,323.00 L226.00,322.82 L226.60,320.55 L227.20,323.01 L227.80,324.12 L228.40,324.80 L229.00,324.29 L229.60,324.46 L230.20,324.15 L230.80,322.79 L231.40,324.15 L232.00,323.20 L232.60,322.77 L233.20,322.85 L233.80,322.25 L234.40,322.16 L235.00,323.08 L235.60,322.32" fill="none" stroke="#d43a4a" stroke-width="1.0" stroke-linejoin="round"/>
<text class="k" transform="translate(110.6,280) rotate(-90) scale(0.91,1)" font-family="Liberation Sans" font-size="8.8" font-weight="bold" text-anchor="middle">BCR-XL</text>
<line x1="107.60" y1="298.50" x2="107.60" y2="312.20" stroke="#000" stroke-width="1.8"/>
<polygon points="107.60,319.20 104.50,312.20 110.70,312.20" fill="#000"/>
<text class="r" x="150.7" y="301.1" font-family="Liberation Sans" font-size="8.3" font-weight="bold" text-anchor="start" fill="#c8263e" >+ 100nM LY379196</text>
<text class="u" x="150.8" y="344.8" font-family="Liberation Sans" font-size="8.25" font-weight="bold" text-anchor="start" fill="#3535bd" >Control</text>
<line x1="148.00" y1="298.30" x2="141.62" y2="302.57" stroke="#c8263e" stroke-width="1.6"/>
<polygon points="138.30,304.80 140.18,300.41 143.07,304.73" fill="#c8263e"/>
<line x1="147.40" y1="339.20" x2="141.69" y2="335.62" stroke="#3535bd" stroke-width="1.6"/>
<polygon points="138.30,333.50 143.07,333.42 140.31,337.83" fill="#3535bd"/>
<text class="k" x="0" y="0" font-family="Liberation Sans" font-size="19.2" font-weight="bold" text-anchor="start" fill="#000" transform="translate(265.9,239.9) scale(0.99,1)">D</text>
<line x1="307.8" y1="369.2" x2="307.8" y2="263.5" stroke="#222" stroke-width="1.3"/>
<line x1="307.15000000000003" y1="369.2" x2="501.6" y2="369.2" stroke="#222" stroke-width="1.3"/>
<line x1="305.60" y1="363.90" x2="307.8" y2="363.90" stroke="#222" stroke-width="1"/>
<line x1="305.60" y1="358.61" x2="307.8" y2="358.61" stroke="#222" stroke-width="1"/>
<line x1="305.60" y1="353.31" x2="307.8" y2="353.31" stroke="#222" stroke-width="1"/>
<line x1="305.60" y1="348.02" x2="307.8" y2="348.02" stroke="#222" stroke-width="1"/>
<line x1="303.80" y1="342.72" x2="307.8" y2="342.72" stroke="#222" stroke-width="1"/>
<line x1="305.60" y1="337.42" x2="307.8" y2="337.42" stroke="#222" stroke-width="1"/>
<line x1="305.60" y1="332.13" x2="307.8" y2="332.13" stroke="#222" stroke-width="1"/>
<line x1="305.60" y1="326.83" x2="307.8" y2="326.83" stroke="#222" stroke-width="1"/>
<line x1="305.60" y1="321.54" x2="307.8" y2="321.54" stroke="#222" stroke-width="1"/>
<line x1="303.80" y1="316.24" x2="307.8" y2="316.24" stroke="#222" stroke-width="1"/>
<line x1="305.60" y1="310.94" x2="307.8" y2="310.94" stroke="#222" stroke-width="1"/>
<line x1="305.60" y1="305.65" x2="307.8" y2="305.65" stroke="#222" stroke-width="1"/>
<line x1="305.60" y1="300.35" x2="307.8" y2="300.35" stroke="#222" stroke-width="1"/>
<line x1="305.60" y1="295.06" x2="307.8" y2="295.06" stroke="#222" stroke-width="1"/>
<line x1="303.80" y1="289.76" x2="307.8" y2="289.76" stroke="#222" stroke-width="1"/>
<line x1="305.60" y1="284.46" x2="307.8" y2="284.46" stroke="#222" stroke-width="1"/>
<line x1="305.60" y1="279.17" x2="307.8" y2="279.17" stroke="#222" stroke-width="1"/>
<line x1="305.60" y1="273.87" x2="307.8" y2="273.87" stroke="#222" stroke-width="1"/>
<line x1="305.60" y1="268.58" x2="307.8" y2="268.58" stroke="#222" stroke-width="1"/>
<line x1="303.80" y1="263.28" x2="307.8" y2="263.28" stroke="#222" stroke-width="1"/>
<line x1="320.70" y1="369.2" x2="320.70" y2="374.2" stroke="#222" stroke-width="1"/>
<line x1="333.61" y1="369.2" x2="333.61" y2="374.2" stroke="#222" stroke-width="1"/>
<line x1="346.51" y1="369.2" x2="346.51" y2="374.2" stroke="#222" stroke-width="1"/>
<line x1="359.42" y1="369.2" x2="359.42" y2="374.2" stroke="#222" stroke-width="1"/>
<line x1="372.32" y1="369.2" x2="372.32" y2="378.2" stroke="#222" stroke-width="1"/>
<line x1="385.22" y1="369.2" x2="385.22" y2="374.2" stroke="#222" stroke-width="1"/>
<line x1="398.13" y1="369.2" x2="398.13" y2="374.2" stroke="#222" stroke-width="1"/>
<line x1="411.03" y1="369.2" x2="411.03" y2="374.2" stroke="#222" stroke-width="1"/>
<line x1="423.94" y1="369.2" x2="423.94" y2="374.2" stroke="#222" stroke-width="1"/>
<line x1="436.84" y1="369.2" x2="436.84" y2="378.2" stroke="#222" stroke-width="1"/>
<line x1="449.74" y1="369.2" x2="449.74" y2="374.2" stroke="#222" stroke-width="1"/>
<line x1="462.65" y1="369.2" x2="462.65" y2="374.2" stroke="#222" stroke-width="1"/>
<line x1="475.55" y1="369.2" x2="475.55" y2="374.2" stroke="#222" stroke-width="1"/>
<line x1="488.46" y1="369.2" x2="488.46" y2="374.2" stroke="#222" stroke-width="1"/>
<line x1="501.36" y1="369.2" x2="501.36" y2="378.2" stroke="#222" stroke-width="1"/>
<text class="k" x="300" y="345.82" font-family="Liberation Sans" font-size="8.5" font-weight="bold" text-anchor="end" fill="#000" >100</text>
<text class="k" x="300" y="319.34" font-family="Liberation Sans" font-size="8.5" font-weight="bold" text-anchor="end" fill="#000" >200</text>
<text class="k" x="300" y="292.86" font-family="Liberation Sans" font-size="8.5" font-weight="bold" text-anchor="end" fill="#000" >300</text>
<text class="k" x="300" y="266.38" font-family="Liberation Sans" font-size="8.5" font-weight="bold" text-anchor="end" fill="#000" >400</text>
<text class="k" x="372.32" y="389.1" font-family="Liberation Sans" font-size="8.5" font-weight="bold" text-anchor="middle" fill="#000" >100</text>
<text class="k" x="436.84" y="389.1" font-family="Liberation Sans" font-size="8.5" font-weight="bold" text-anchor="middle" fill="#000" >200</text>
<text class="k" x="501.36" y="389.1" font-family="Liberation Sans" font-size="8.5" font-weight="bold" text-anchor="middle" fill="#000" >300</text>
<text class="k" x="301.6" y="381.7" font-family="Liberation Sans" font-size="8.5" font-weight="bold" text-anchor="middle" fill="#000" >0</text>
<text class="k" x="408.5" y="401.7" font-family="Liberation Sans" font-size="9.3" font-weight="bold" text-anchor="middle" fill="#000" >Time (s)</text>
<text class="k" transform="translate(271.1,312.2) rotate(-90)" font-family="Liberation Sans" font-size="9.65" font-weight="bold" text-anchor="middle">Ca<tspan font-size="5.8" dy="-3.5">2+</tspan><tspan dy="3.5"> Concentration</tspan></text>
<text class="k" transform="translate(281.4,311) rotate(-90)" font-family="Liberation Sans" font-size="6.2" font-weight="bold" text-anchor="middle">(nM)</text>
<path d="M308.50,338.42 L309.10,339.82 L309.70,339.65 L310.30,339.57 L310.90,339.25 L311.50,338.92 L312.10,338.94 L312.70,338.52 L313.30,337.90 L313.90,337.48 L314.50,337.11 L315.10,337.80 L315.70,338.33 L316.30,339.25 L316.90,339.02 L317.50,338.76 L318.10,338.86 L318.70,338.50 L319.30,337.17 L319.90,338.29 L320.00,337.93 L320.50,338.11 L321.10,337.85 L321.70,339.64 L322.30,339.42 L322.90,338.82 L323.50,337.53 L324.10,338.10 L324.70,337.25 L325.00,338.09 L325.30,336.84 L325.90,337.05 L326.50,337.76 L327.10,336.98 L327.70,337.15 L328.30,337.24 L328.90,337.73 L329.50,337.06 L330.10,337.43 L330.70,338.44 L331.30,336.70 L331.90,336.19 L332.50,336.72 L333.10,336.26 L333.70,335.57 L334.30,336.92 L334.90,337.28 L335.50,337.51 L336.10,337.58 L336.70,337.36 L337.30,336.26 L337.90,334.71 L338.50,335.69 L339.10,335.17 L339.70,335.58 L340.00,336.00 L340.30,335.19 L340.90,335.34 L341.50,336.71 L342.10,336.78 L342.70,335.31 L343.30,335.45 L343.90,335.64 L344.50,336.09 L345.10,336.41 L345.70,336.05 L346.30,335.75 L346.90,336.29 L347.50,335.11 L348.10,336.12 L348.70,336.11 L349.30,335.57 L349.90,335.24 L350.00,335.59 L350.50,334.45 L351.10,333.16 L351.70,334.06 L352.30,335.03 L352.90,334.36 L353.50,334.00 L354.00,333.67 L354.10,333.09 L354.70,333.93 L355.30,334.75 L355.90,334.82 L356.50,335.55 L357.10,334.86 L357.70,335.46 L358.00,335.14 L358.30,335.10 L358.90,335.63 L359.50,335.87 L360.10,336.47 L360.70,336.70 L361.30,335.71 L361.90,336.80 L362.50,335.61 L363.10,335.97 L363.70,336.45 L364.30,336.49 L364.90,336.91 L365.00,336.80 L365.50,336.11 L366.10,336.87 L366.70,336.71 L367.30,336.10 L367.90,336.39 L368.50,336.49 L369.10,336.75 L369.70,336.32 L370.30,336.57 L370.90,336.48 L371.50,337.53 L372.10,336.84 L372.70,337.51 L373.30,337.01 L373.90,337.50 L374.50,338.48 L375.10,337.31 L375.70,337.04 L376.30,336.27 L376.90,336.00 L377.30,335.96 L377.50,336.14 L378.10,336.26 L378.70,336.01 L379.30,334.74 L379.90,334.20 L380.50,332.66 L381.00,332.94 L381.10,332.74 L381.70,331.67 L382.30,331.10 L382.90,331.36 L383.50,330.95 L384.10,330.83 L384.70,329.85 L385.20,329.56 L385.30,329.40 L385.90,328.64 L386.50,329.14 L387.10,329.47 L387.70,329.35 L388.30,330.24 L388.90,331.57 L389.50,331.85 L390.10,331.20 L390.70,330.20 L391.30,330.35 L391.90,330.20 L392.50,330.66 L393.10,331.58 L393.70,331.33 L394.00,330.38 L394.30,331.64 L394.90,331.59 L395.50,332.44 L396.10,331.57 L396.70,333.27 L397.30,331.93 L397.90,332.16 L398.50,332.76 L399.10,331.07 L399.70,331.39 L400.30,331.13 L400.40,332.98 L400.90,333.26 L401.50,332.39 L402.10,331.47 L402.70,331.00 L403.30,331.94 L403.90,331.81 L404.50,332.45 L405.10,332.22 L405.70,331.40 L406.30,333.12 L406.90,333.17 L407.50,332.47 L408.10,332.33 L408.70,333.27 L409.30,333.44 L409.90,332.26 L410.50,333.31 L411.10,332.57 L411.70,332.93 L412.30,332.01 L412.90,331.88 L413.50,332.70 L414.10,331.89 L414.70,332.27 L415.30,332.65 L415.90,332.19 L416.50,333.25 L417.10,333.29 L417.70,332.82 L418.30,333.29 L418.90,333.73 L419.50,333.87 L420.00,333.11 L420.10,333.30 L420.70,333.14 L421.30,332.16 L421.90,332.12 L422.50,333.56 L423.10,332.56 L423.70,332.85 L424.30,333.73 L424.90,332.91 L425.50,332.72 L426.10,332.18 L426.70,332.68 L427.30,331.87 L427.90,332.49 L428.50,332.03 L429.10,332.50 L429.70,331.50 L430.30,331.37 L430.90,332.55 L431.50,332.93 L432.10,330.90 L432.70,332.68 L433.30,332.13 L433.90,332.91 L434.50,333.39 L435.10,332.90 L435.70,332.53 L436.30,331.40 L436.90,332.30 L437.50,333.60 L438.10,332.35 L438.70,333.18 L439.30,333.37 L439.90,332.09 L440.50,332.47 L441.10,332.49 L441.70,332.73 L442.30,333.74 L442.90,332.64 L443.50,332.33 L444.10,332.04 L444.70,332.89 L445.30,331.82 L445.90,330.13 L446.50,331.62 L447.10,331.95 L447.70,332.79 L448.30,332.42 L448.90,332.99 L449.50,332.56 L450.10,332.61 L450.70,332.57 L451.30,332.11 L451.90,332.67 L452.50,333.10 L453.10,332.44 L453.70,333.01 L454.30,332.94 L454.90,331.08 L455.50,332.76 L456.10,333.26 L456.70,333.46 L457.30,334.02 L457.90,333.55 L458.50,333.30 L459.10,332.13 L459.70,332.13 L460.00,332.81 L460.30,332.11 L460.90,331.85 L461.50,333.38 L462.10,332.97 L462.70,332.13 L463.30,331.08 L463.90,331.30 L464.50,333.33 L465.10,332.92 L465.70,333.08 L466.30,333.19 L466.90,332.53 L467.50,332.69 L468.10,332.57 L468.70,332.27 L469.30,332.93 L469.90,330.12 L470.50,331.75 L471.10,331.61 L471.70,332.67 L472.30,332.15 L472.90,333.26 L473.50,331.90 L474.10,331.42 L474.70,330.17 L475.30,330.57 L475.90,331.37 L476.50,332.12 L477.10,331.47 L477.70,331.41 L478.30,332.54 L478.90,331.94 L479.50,331.98 L480.10,332.31 L480.70,331.49 L481.30,332.40 L481.90,331.98 L482.50,332.35 L483.10,331.87 L483.70,331.96 L484.30,332.56 L484.90,332.24 L485.50,330.84 L486.10,331.06 L486.70,331.09 L487.30,331.21 L487.90,331.49 L488.50,330.52 L489.10,332.06 L489.70,331.24 L490.00,332.13 L490.30,331.51 L490.90,331.11 L491.50,330.98 L492.10,330.71 L492.70,331.06 L493.30,331.57 L493.90,332.12 L494.50,332.36 L495.10,330.54 L495.70,330.71 L496.30,330.62 L496.90,330.17 L497.50,330.11 L498.10,329.84 L498.70,328.94 L499.30,328.60 L499.90,329.45 L500.40,329.22" fill="none" stroke="#2c2ca4" stroke-width="1.2" stroke-linejoin="round"/>
<path d="M308.50,335.24 L309.10,335.64 L309.70,336.49 L310.30,337.05 L310.90,337.11 L311.50,336.46 L312.10,336.30 L312.70,335.87 L313.30,335.01 L313.90,335.09 L314.50,335.96 L315.10,335.98 L315.70,335.65 L316.30,335.03 L316.90,335.30 L317.50,335.14 L318.10,335.42 L318.70,335.82 L319.30,334.37 L319.90,334.95 L320.50,334.41 L321.10,334.46 L321.70,334.29 L322.30,335.61 L322.90,336.00 L323.50,336.09 L324.10,335.39 L324.70,334.62 L325.30,334.86 L325.90,335.33 L326.50,335.39 L327.10,335.87 L327.70,335.48 L328.30,336.57 L328.90,336.43 L329.50,337.15 L330.00,336.47 L330.10,335.81 L330.70,334.89 L331.30,335.30 L331.90,335.52 L332.50,334.98 L333.10,334.75 L333.70,334.10 L334.30,333.57 L334.90,333.26 L335.00,332.24 L335.50,332.31 L336.10,333.01 L336.70,333.45 L337.30,334.27 L337.90,334.43 L338.50,334.42 L339.10,334.22 L339.70,332.78 L340.00,333.43 L340.30,333.22 L340.90,333.97 L341.50,333.92 L342.10,333.89 L342.70,333.79 L343.30,333.91 L343.90,333.01 L344.50,332.80 L345.10,334.41 L345.70,334.77 L346.30,334.46 L346.90,334.40 L347.50,334.38 L348.10,336.56 L348.70,336.05 L349.30,335.52 L349.90,334.88 L350.00,333.53 L350.50,334.29 L351.10,335.40 L351.70,335.65 L352.30,335.36 L352.90,334.67 L353.50,333.95 L354.10,334.32 L354.70,334.19 L355.30,333.66 L355.90,335.04 L356.00,334.20 L356.50,333.77 L357.10,332.28 L357.70,333.82 L358.30,333.33 L358.90,332.99 L359.50,332.88 L360.00,332.06 L360.10,331.90 L360.70,332.37 L361.30,331.93 L361.90,332.40 L362.50,333.17 L363.10,333.28 L363.70,333.73 L364.30,333.75 L364.90,334.16 L365.50,333.49 L366.10,333.25 L366.70,332.21 L367.30,332.24 L367.90,331.93 L368.50,332.17 L369.10,331.70 L369.70,332.29 L370.30,333.93 L370.90,332.74 L371.00,332.96 L371.50,333.40 L372.10,333.01 L372.70,333.27 L373.30,333.43 L373.90,334.27 L374.00,333.93 L374.50,335.67 L375.10,335.49 L375.70,335.57 L376.30,336.22 L376.90,336.08 L377.50,335.12 L378.00,334.92 L378.10,333.70 L378.70,328.11 L379.00,325.73 L379.30,322.88 L379.90,319.71 L380.00,319.79 L380.50,317.56 L381.10,313.83 L381.70,310.38 L382.30,306.66 L382.90,302.27 L383.30,298.85 L383.50,297.34 L384.10,292.96 L384.70,290.18 L385.00,288.56 L385.30,285.79 L385.90,291.32 L386.10,292.75 L386.50,293.78 L387.10,294.63 L387.70,297.42 L388.30,297.67 L388.90,298.78 L389.50,299.63 L390.10,299.93 L390.70,300.72 L391.00,301.01 L391.30,301.32 L391.90,302.25 L392.50,302.56 L393.10,303.85 L393.70,304.50 L394.30,304.40 L394.40,305.06 L394.90,305.35 L395.50,306.36 L396.10,305.49 L396.70,306.96 L397.30,306.44 L397.70,307.35 L397.90,309.99 L398.50,310.29 L399.10,310.97 L399.70,310.55 L400.30,310.39 L400.90,311.24 L401.50,312.25 L402.10,312.76 L402.70,312.98 L403.30,313.28 L403.90,314.03 L404.50,315.93 L405.10,316.22 L405.40,316.14 L405.70,316.36 L406.30,316.57 L406.90,316.79 L407.50,318.15 L408.10,319.90 L408.70,320.61 L409.30,319.64 L409.90,320.97 L410.50,320.96 L411.10,322.00 L411.70,321.38 L412.00,320.34 L412.30,320.76 L412.90,320.76 L413.50,320.22 L414.10,320.18 L414.70,320.38 L415.30,320.22 L415.90,321.06 L416.50,321.31 L417.10,321.06 L417.70,321.05 L418.30,321.85 L418.90,322.00 L419.50,321.18 L420.00,321.67 L420.10,322.80 L420.70,322.74 L421.30,322.14 L421.90,320.40 L422.50,324.73 L423.10,324.12 L423.70,322.47 L424.30,322.27 L424.90,324.31 L425.50,324.23 L426.00,324.81 L426.10,324.90 L426.70,324.72 L427.30,325.55 L427.90,325.07 L428.50,325.08 L429.10,324.92 L429.70,324.81 L430.30,326.07 L430.90,324.56 L431.50,323.75 L432.10,324.73 L432.70,323.80 L433.00,324.20 L433.30,323.60 L433.90,324.39 L434.50,324.13 L435.10,324.35 L435.70,323.53 L436.30,323.40 L436.90,321.96 L437.50,323.05 L438.10,320.26 L438.70,323.05 L439.30,322.90 L439.90,322.49 L440.00,322.53 L440.50,323.74 L441.10,322.84 L441.70,322.47 L442.30,323.00 L442.90,322.99 L443.50,322.48 L444.10,323.59 L444.70,324.16 L445.30,323.25 L445.90,324.09 L446.50,322.58 L447.10,323.59 L447.70,322.19 L448.30,322.70 L448.90,322.64 L449.50,322.49 L450.10,323.01 L450.70,322.31 L451.30,322.09 L451.90,319.75 L452.50,323.18 L453.10,322.63 L453.70,322.93 L454.30,322.73 L454.90,323.40 L455.50,322.48 L456.10,322.13 L456.70,322.09 L457.30,322.58 L457.90,322.25 L458.50,322.83 L459.10,323.17 L459.70,323.65 L460.30,323.58 L460.90,324.08 L461.50,323.27 L462.10,322.77 L462.70,322.42 L463.30,322.24 L463.90,321.77 L464.50,322.58 L465.10,322.81 L465.70,321.59 L466.30,322.19 L466.90,322.12 L467.50,321.98 L468.10,322.29 L468.70,323.35 L469.30,323.21 L469.90,321.88 L470.00,322.61 L470.50,322.23 L471.10,323.56 L471.70,322.93 L472.30,322.85 L472.90,322.73 L473.50,322.28 L474.10,322.31 L474.70,322.49 L475.30,323.97 L475.90,323.45 L476.50,323.41 L477.10,323.15 L477.70,323.06 L478.30,323.10 L478.90,323.76 L479.50,321.45 L480.10,321.69 L480.70,317.67 L481.30,322.68 L481.90,322.17 L482.50,322.98 L483.10,323.46 L483.70,322.70 L484.30,322.98 L484.90,322.49 L485.50,323.03 L486.10,323.10 L486.70,323.53 L487.30,323.52 L487.90,322.41 L488.50,323.32 L489.10,322.92 L489.70,323.34 L490.00,322.95 L490.30,323.19 L490.90,321.92 L491.50,322.72 L492.10,321.65 L492.70,321.53 L493.30,317.77 L493.90,320.62 L494.50,321.09 L495.10,321.04 L495.70,318.41 L496.30,320.97 L496.90,320.12 L497.50,319.56 L498.10,319.36 L498.70,319.75 L499.30,319.68 L499.90,320.03 L500.40,320.71" fill="none" stroke="#d43a4a" stroke-width="1.0" stroke-linejoin="round"/>
<text class="k" transform="translate(379.5,282.7) rotate(-90) scale(0.91,1)" font-family="Liberation Sans" font-size="8.8" font-weight="bold" text-anchor="middle">BCR-XL</text>
<line x1="376.20" y1="301.00" x2="376.20" y2="315.20" stroke="#000" stroke-width="1.8"/>
<polygon points="376.20,322.20 373.10,315.20 379.30,315.20" fill="#000"/>
<text class="r" x="415.9" y="304.6" font-family="Liberation Sans" font-size="8.2" font-weight="bold" text-anchor="start" fill="#c8263e" >Control</text>
<text class="u" x="417.3" y="348" font-family="Liberation Sans" font-size="8.2" font-weight="bold" text-anchor="start" fill="#3535bd" >+ 10nM Bryostatin</text>
<line x1="412.70" y1="302.80" x2="406.02" y2="306.40" stroke="#c8263e" stroke-width="1.6"/>
<polygon points="402.50,308.30 404.79,304.11 407.25,308.69" fill="#c8263e"/>
<line x1="412.70" y1="343.40" x2="406.19" y2="339.32" stroke="#3535bd" stroke-width="1.6"/>
<polygon points="402.80,337.20 407.57,337.12 404.81,341.53" fill="#3535bd"/>
</svg></body></html>
